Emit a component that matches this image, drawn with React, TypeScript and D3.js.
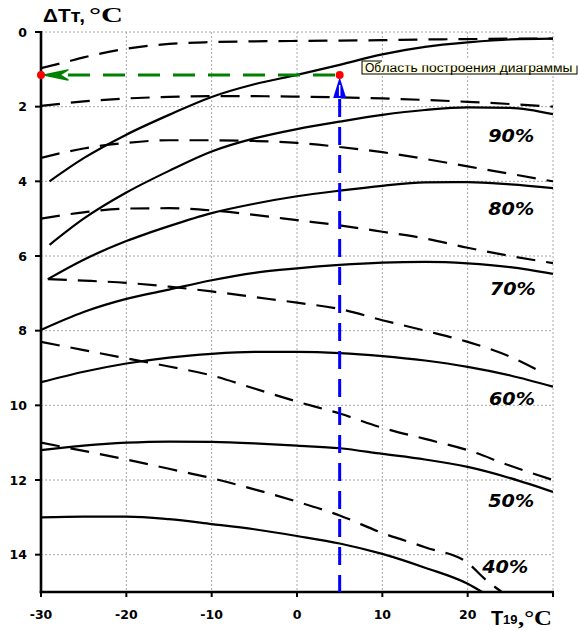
import React from 'react';
import * as d3 from 'd3';

const W = 580;
const H = 631;

// axis ticks
const xTicks = [-30, -20, -10, 0, 10, 20, 30];
const yTicks = [0, 2, 4, 6, 8, 10, 12, 14];

// curve labels (relative humidity) and where they sit (T19, ΔT)
const humidityLabels = ['90%', '80%', '70%', '60%', '50%', '40%'];
const labelPos: [number, number][] = [
  [22.4, 2.95], [22.4, 4.9], [22.6, 7.05], [22.5, 10.0], [22.4, 12.72], [21.7, 14.5],
];

// solid curves [T19, ΔT]
const solidTop: [number, number][] = [
  [-29, 4.0], [-25, 3.38], [-20, 2.75], [-15, 2.22], [-10, 1.74],
  [-5, 1.4], [0, 1.15], [5, 0.88], [10, 0.6], [15, 0.4], [20, 0.28], [25, 0.2], [30, 0.18],
];
const solid90: [number, number][] = [
  [-29, 5.7], [-25, 5.0], [-20, 4.3], [-15, 3.72], [-10, 3.2], [-5, 2.85],
  [0, 2.6], [5, 2.4], [10, 2.22], [15, 2.09], [20, 2.02], [25, 2.03], [30, 2.2],
];
const solid80: [number, number][] = [
  [-29.2, 6.62], [-25, 6.1], [-20, 5.6], [-15, 5.2], [-10, 4.85], [-5, 4.6], [0, 4.4],
  [5, 4.25], [10, 4.12], [15, 4.03], [20, 4.02], [25, 4.08], [30, 4.18],
];
const solid70: [number, number][] = [
  [-30, 7.98], [-25, 7.5], [-20, 7.15], [-15, 6.9], [-10, 6.65], [-5, 6.45], [0, 6.33],
  [5, 6.24], [10, 6.18], [15, 6.16], [20, 6.2], [25, 6.3], [30, 6.48],
];
const solid60: [number, number][] = [
  [-30, 9.38], [-25, 9.1], [-20, 8.88], [-15, 8.72], [-10, 8.62], [-5, 8.57], [0, 8.57],
  [5, 8.6], [10, 8.68], [15, 8.8], [20, 8.97], [25, 9.2], [30, 9.5],
];
const solid50: [number, number][] = [
  [-30, 11.2], [-25, 11.08], [-20, 11.0], [-15, 10.97], [-10, 10.98], [-5, 11.02], [0, 11.08],
  [5, 11.15], [10, 11.3], [15, 11.45], [20, 11.65], [25, 11.95], [30, 12.32],
];
const solid40: [number, number][] = [
  [-30, 13.0], [-25, 12.98], [-20, 12.98], [-15, 13.05], [-10, 13.18], [-5, 13.32], [0, 13.5],
  [5, 13.7], [10, 13.98], [15, 14.35], [20, 14.78], [21.7, 15.0],
];

// dashed curves [T19, ΔT]
const dashedTop: [number, number][] = [
  [-30, 0.97], [-27, 0.8], [-25, 0.68], [-20, 0.45], [-15, 0.32], [-10, 0.27], [-5, 0.25],
  [0, 0.24], [5, 0.23], [10, 0.22], [15, 0.2], [20, 0.19], [25, 0.18], [30, 0.18],
];
const dashed90: [number, number][] = [
  [-30, 1.98], [-25, 1.86], [-20, 1.78], [-15, 1.74], [-10, 1.72], [-5, 1.72], [0, 1.73],
  [5, 1.75], [10, 1.78], [15, 1.82], [20, 1.87], [25, 1.93], [30, 2.0],
];
const dashed80: [number, number][] = [
  [-30, 3.37], [-25, 3.12], [-20, 2.97], [-15, 2.9], [-10, 2.9], [-5, 2.92], [0, 2.97],
  [5, 3.08], [10, 3.22], [15, 3.4], [20, 3.6], [25, 3.8], [30, 4.0],
];
const dashed70: [number, number][] = [
  [-30, 5.0], [-25, 4.83], [-20, 4.73], [-15, 4.72], [-10, 4.78], [-5, 4.9], [0, 5.04],
  [5, 5.18], [10, 5.35], [15, 5.53], [20, 5.78], [25, 6.0], [30, 6.19],
];
const dashed60: [number, number][] = [
  [-29.2, 6.62], [-25, 6.66], [-20, 6.72], [-15, 6.82], [-10, 6.95], [-5, 7.1], [0, 7.25],
  [5, 7.42], [10, 7.72], [15, 8.0], [20, 8.3], [25, 8.7], [29, 9.15],
];
const dashed50: [number, number][] = [
  [-30, 8.3], [-25, 8.52], [-20, 8.74], [-15, 8.96], [-10, 9.2], [-5, 9.55], [0, 9.9],
  [5, 10.22], [10, 10.6], [15, 10.9], [20, 11.2], [25, 11.62], [30, 12.0],
];
const dashed40: [number, number][] = [
  [-30, 11.0], [-25, 11.22], [-20, 11.45], [-15, 11.7], [-10, 11.95], [-5, 12.25], [0, 12.58],
  [5, 12.95], [10, 13.42], [15, 13.8], [20, 14.22], [22, 14.65], [24, 15.0],
];

const solidSeries = [solidTop, solid90, solid80, solid70, solid60, solid50, solid40];
const dashedSeries = [dashedTop, dashed90, dashed80, dashed70, dashed60, dashed50, dashed40];

// working point
const workT = 5;
const workDT = 1.15;

export default function App() {
  const x = d3.scaleLinear().domain([-30, 30]).range([41, 553]);
  const y = d3.scaleLinear().domain([0, 15]).range([32, 592]);
  const line = d3
    .line<[number, number]>()
    .x((d) => x(d[0]))
    .y((d) => y(d[1]))
    .curve(d3.curveMonotoneX);

  const px = x(workT);
  const py = y(workDT);
  const x0 = x(-30);

  const sans = "'DejaVu Sans', Verdana, sans-serif";
  const arial = "'Liberation Sans', Arial, sans-serif";
  const serif = "'Liberation Serif', 'Times New Roman', serif";

  return (
    <svg
      width={W}
      height={H}
      viewBox={`0 0 ${W} ${H}`}
      style={{ position: 'absolute', left: 0, top: 0, background: '#fff' }}
    >
      <defs>
        <clipPath id="plot">
          <rect x={x(-30)} y={y(0)} width={x(30) - x(-30)} height={y(15) - y(0)} />
        </clipPath>
        <clipPath id="tipcut">
          <rect x={381} y={65.5} width={200} height={10} />
        </clipPath>
      </defs>

      {/* grid */}
      <g stroke="#a8a8a8" strokeWidth={1} strokeDasharray="2,2" fill="none">
        {yTicks.map((t) => (
          <line key={'gy' + t} x1={x(-30)} x2={x(30)} y1={y(t)} y2={y(t)} />
        ))}
        {xTicks.slice(1).map((t) => (
          <line key={'gx' + t} x1={x(t)} x2={x(t)} y1={y(0)} y2={y(15)} />
        ))}
      </g>

      {/* curves */}
      <g clipPath="url(#plot)" fill="none" stroke="#000" strokeWidth={2.2}>
        {solidSeries.map((s, i) => (
          <path key={'s' + i} d={line(s) || ''} />
        ))}
        {dashedSeries.map((s, i) => (
          <path key={'d' + i} d={line(s) || ''} strokeDasharray="19,11" />
        ))}
      </g>

      {/* percentage labels */}
      <g fontFamily={sans} fontWeight="bold" fontStyle="italic" fontSize={17} fill="#000">
        {humidityLabels.map((l, i) => (
          <text
            key={l}
            x={x(labelPos[i][0])}
            y={y(labelPos[i][1])}
            textLength={46}
            lengthAdjust="spacingAndGlyphs"
          >
            {l}
          </text>
        ))}
      </g>

      {/* axes */}
      <g stroke="#000" strokeWidth={2.6}>
        <line x1={x(-30)} x2={x(-30)} y1={y(0) - 1} y2={y(15) + 1.3} />
        <line x1={x(-30) - 1.3} x2={x(30) + 1} y1={y(15)} y2={y(15)} />
      </g>
      <g stroke="#000" strokeWidth={2}>
        {yTicks.map((t) => (
          <line key={'ty' + t} x1={x(-30) - 6} x2={x(-30)} y1={y(t)} y2={y(t)} />
        ))}
        {xTicks.map((t) => (
          <line key={'tx' + t} x1={x(t)} x2={x(t)} y1={y(15)} y2={y(15) + 5} />
        ))}
      </g>
      <g fontFamily={sans} fontWeight="bold" fontSize={12.5} fill="#000">
        {yTicks.map((t) => (
          <text key={'ly' + t} x={27} y={y(t)} dy="0.36em" textAnchor="end">
            {t}
          </text>
        ))}
        {xTicks.slice(0, 6).map((t) => (
          <text key={'lx' + t} x={x(t)} y={619} textAnchor="middle">
            {t}
          </text>
        ))}
      </g>

      {/* axis titles */}
      <text x={43} y={22} fontFamily={arial} fontWeight="bold" fontSize={18} textLength={42} lengthAdjust="spacingAndGlyphs">
        ΔTт,
      </text>
      <text x={89} y={22} fontFamily={serif} fontWeight="bold" fontSize={20} textLength={34} lengthAdjust="spacingAndGlyphs">
        °C
      </text>
      <text x={491} y={625} fontFamily={arial} fontWeight="bold" fontSize={20}>
        T
      </text>
      <text x={503} y={624} fontFamily={arial} fontWeight="bold" fontSize={13}>
        19
      </text>
      <text x={518} y={625} fontFamily={serif} fontWeight="bold" fontSize={21} textLength={34} lengthAdjust="spacingAndGlyphs">
        ,°C
      </text>

      {/* green horizontal reading line */}
      <line x1={x0 + 27} x2={px} y1={py} y2={py} stroke="#008000" strokeWidth={3} strokeDasharray="22,13" />
      <polygon
        points={`${x0 + 3},${py} ${x0 + 27},${py - 5} ${x0 + 19},${py} ${x0 + 27},${py + 5}`}
        fill="#008000"
        stroke="#008000"
        strokeWidth={1.5}
        strokeLinejoin="round"
      />

      {/* blue vertical reading line */}
      <line x1={px} x2={px} y1={py + 24} y2={y(15)} stroke="#0000ff" strokeWidth={3} strokeDasharray="18,10" />
      <polygon points={`${px},${py + 2} ${px - 6.5},${py + 23} ${px + 6.5},${py + 23}`} fill="#0000ff" />
      <line x1={px} x2={px} y1={py + 10} y2={py + 21} stroke="#fff" strokeWidth={1.5} />

      {/* red points */}
      <circle cx={x0} cy={py} r={4} fill="#ff0000" />
      <circle cx={px} cy={py} r={4} fill="#ff0000" />

      {/* tooltip */}
      <rect x={362} y={61} width={215} height={13} fill="#ffffe1" stroke="#000" strokeWidth={1} />
      <rect x={382} y={59} width={198} height={6.5} fill="#fff" />
      <text x={365} y={72} fontFamily={arial} fontSize={12} fill="#000">
        Об
      </text>
      <text x={381.5} y={72} fontFamily={arial} fontSize={12} fill="#000" clipPath="url(#tipcut)" textLength={191} lengthAdjust="spacingAndGlyphs">
        ласть построения диаграммы
      </text>
    </svg>
  );
}
